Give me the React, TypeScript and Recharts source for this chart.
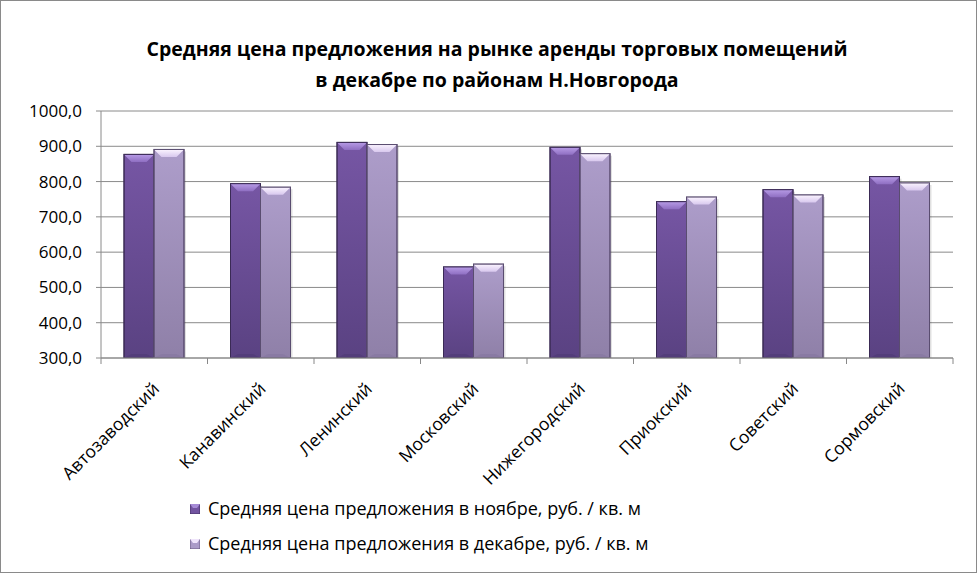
import React from "react";
import { BarChart, Bar, XAxis, YAxis, CartesianGrid } from "recharts";

const districts = [
  "Автозаводский",
  "Канавинский",
  "Ленинский",
  "Московский",
  "Нижегородский",
  "Приокский",
  "Советский",
  "Сормовский",
];
const novemberPrices = [877, 794, 911, 558, 897, 743, 777, 814];
const decemberPrices = [891, 784, 905, 566, 879, 756, 762, 796];
const yTicks = [300, 400, 500, 600, 700, 800, 900, 1000];
const titleLines = [
  "Средняя цена предложения на рынке аренды торговых помещений",
  "в декабре по районам Н.Новгорода",
];
const seriesNames = [
  "Средняя цена предложения в ноябре, руб. / кв. м",
  "Средняя цена предложения в декабре, руб. / кв. м",
];

const data = districts.map((d, i) => ({
  name: d,
  nov: novemberPrices[i],
  dec: decemberPrices[i],
}));

const FONT = "'Open Sans', 'Liberation Sans', sans-serif";

const palettes = {
  nov: { top: "#a68bd6", mid: "#7254a0", dark: "#4f3a74", edge: "#3a2a55" },
  dec: { top: "#efe4fb", mid: "#ab9bc8", dark: "#8676a0", edge: "#5a4d70" },
};

const BevelBar = (key: "nov" | "dec") => (props: any) => {
  const { x, y, width, height } = props;
  if (!height || height <= 0) return null;
  const p = palettes[key];
  const b = Math.min(8, width / 4);
  return (
    <g>
      <rect x={x + 2} y={y + 2} width={width} height={height} fill="rgba(0,0,0,0.12)" />
      <rect x={x} y={y} width={width} height={height} fill={`url(#grad-${key})`} stroke={p.edge} strokeWidth={1} />
      <polygon
        points={`${x},${y} ${x + width},${y} ${x + width - b},${y + b} ${x + b},${y + b}`}
        fill={`url(#top-${key})`}
      />
      <polygon
        points={`${x},${y + height} ${x + width},${y + height} ${x + width - b},${y + height - 4} ${x + b},${y + height - 4}`}
        fill={p.dark}
        opacity={0.6}
      />
      <rect x={x} y={y} width={width} height={height} fill="none" stroke={p.edge} strokeWidth={1} />
    </g>
  );
};

const XTick = (props: any) => {
  const { x, y, payload, index } = props;
  const half = 106.5 / 2;
  return (
    <g>
      <line x1={x + half} y1={y - 8} x2={x + half} y2={y - 2} stroke="#888" />
      {index === 0 && <line x1={x - half} y1={y - 8} x2={x - half} y2={y - 2} stroke="#888" />}
      <text
        x={x + 6}
        y={y + 24}
        transform={`rotate(-45, ${x + 6}, ${y + 24})`}
        textAnchor="end"
        fontFamily={FONT}
        fontSize={17.5}
        fill="#000"
      >
        {payload.value}
      </text>
    </g>
  );
};

const LegendMarker = ({ k }: { k: "nov" | "dec" }) => {
  const p = palettes[k];
  return (
    <svg width={10} height={10} style={{ display: "inline-block", marginRight: 8 }}>
      <rect x={0} y={0} width={10} height={10} fill={p.mid} stroke={p.edge} strokeWidth={0.8} />
      <polygon points="0,0 10,0 7,4 3,4" fill={p.top} />
    </svg>
  );
};

export default function App() {
  return (
    <div
      style={{
        position: "absolute",
        left: 0,
        top: 0,
        width: 977,
        height: 573,
        background: "#fff",
        fontFamily: FONT,
      }}
    >
      <div
        style={{
          position: "absolute",
          left: 0,
          top: 0,
          width: 975,
          height: 571,
          border: "1px solid #8a8a8a",
        }}
      />
      <div
        style={{
          position: "absolute",
          left: 0,
          top: 33,
          width: 994,
          textAlign: "center",
          fontWeight: 700,
          fontSize: 19.5,
          lineHeight: "31px",
          color: "#000",
        }}
      >
        <div>{titleLines[0]}</div>
        <div>{titleLines[1]}</div>
      </div>
      <BarChart
        width={977}
        height={573}
        data={data}
        margin={{ top: 111, right: 24, left: 0, bottom: 0 }}
        barCategoryGap={23}
        barGap={0}
        style={{ position: "absolute", left: 0, top: 0 }}
      >
        <defs>
          <linearGradient id="grad-nov" x1="0" y1="0" x2="0" y2="1">
            <stop offset="0%" stopColor="#7656a4" />
            <stop offset="100%" stopColor="#5a4282" />
          </linearGradient>
          <linearGradient id="grad-dec" x1="0" y1="0" x2="0" y2="1">
            <stop offset="0%" stopColor="#ad9dca" />
            <stop offset="100%" stopColor="#8f80a8" />
          </linearGradient>
          <linearGradient id="top-nov" x1="0" y1="0" x2="0" y2="1">
            <stop offset="0%" stopColor="#b79be6" />
            <stop offset="100%" stopColor="#8f6fc2" />
          </linearGradient>
          <linearGradient id="top-dec" x1="0" y1="0" x2="0" y2="1">
            <stop offset="0%" stopColor="#fbf4ff" />
            <stop offset="100%" stopColor="#d8c8ee" />
          </linearGradient>
        </defs>
        <CartesianGrid vertical={false} stroke="#8a8a8a" strokeWidth={1} />
        <XAxis
          dataKey="name"
          height={215}
          tickLine={false}
          axisLine={{ stroke: "#8a8a8a" }}
          tick={<XTick />}
          interval={0}
        />
        <YAxis
          width={101}
          domain={[300, 1000]}
          ticks={yTicks}
          allowDataOverflow
          tickFormatter={(v: number) => v.toFixed(1).replace(".", ",")}
          tick={{ fontFamily: FONT, fontSize: 17, fill: "#000" }}
          tickSize={5}
          tickMargin={14}
          tickLine={{ stroke: "#8a8a8a" }}
          axisLine={{ stroke: "#8a8a8a" }}
        />
        <Bar dataKey="nov" name={seriesNames[0]} shape={BevelBar("nov")} isAnimationActive={false} />
        <Bar dataKey="dec" name={seriesNames[1]} shape={BevelBar("dec")} isAnimationActive={false} />
      </BarChart>
      <div
        style={{
          position: "absolute",
          left: 190,
          top: 491,
          fontSize: 18,
          color: "#000",
          lineHeight: "35px",
        }}
      >
        <div style={{ display: "flex", alignItems: "center" }}>
          <LegendMarker k="nov" />
          {seriesNames[0]}
        </div>
        <div style={{ display: "flex", alignItems: "center" }}>
          <LegendMarker k="dec" />
          {seriesNames[1]}
        </div>
      </div>
    </div>
  );
}
